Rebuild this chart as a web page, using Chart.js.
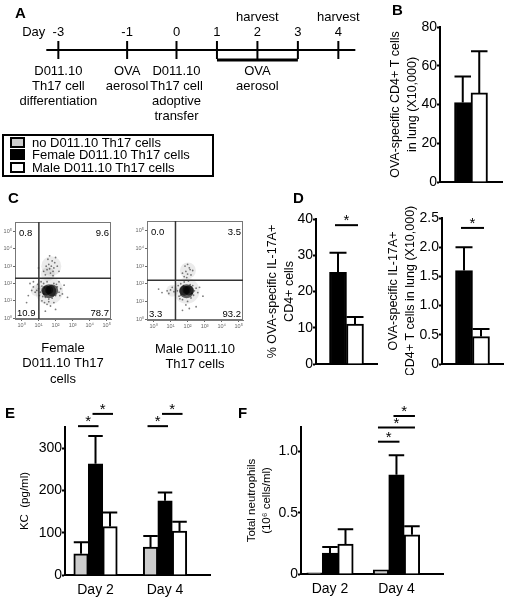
<!DOCTYPE html>
<html>
<head>
<meta charset="utf-8">
<script src="https://cdn.jsdelivr.net/npm/chart.js@4.4.1/dist/chart.umd.min.js"></script>
<style>
  body { margin: 0; background: #fff; font-family: "Liberation Sans", Arial, sans-serif; }
  #page { position: relative; width: 506px; height: 600px; overflow: hidden; }
  #page canvas { position: absolute; }
  .tag { position: absolute; font-weight: bold; font-size: 15px; line-height: 17px; }
  #legend { position: absolute; left: 2px; top: 134px; width: 208px; padding-bottom: 1px; border: 2px solid #000; font-size: 13px; }
  #legend .row { height: 12.5px; display: flex; align-items: center; }
  #legend .sw { display: inline-block; width: 11px; height: 7px; border: 2px solid #000; margin: 0 7px 0 6px; }
</style>
</head>
<body>
<div id="page">
  <canvas id="cA" width="372" height="135" style="left:0;top:0"></canvas>
  <canvas id="cB" width="130" height="179" style="left:376px;top:14px"></canvas>
  <canvas id="cC1" width="125" height="187" style="left:0;top:208px"></canvas>
  <canvas id="cC2" width="124" height="188" style="left:132px;top:208px"></canvas>
  <canvas id="cD1" width="128" height="170" style="left:252px;top:205px"></canvas>
  <canvas id="cD2" width="128" height="170" style="left:378px;top:205px"></canvas>
  <canvas id="cE" width="215" height="200" style="left:0;top:400px"></canvas>
  <canvas id="cF" width="217" height="200" style="left:236px;top:400px"></canvas>
  <div id="legend"></div>
  <div class="tag" style="left:15px;top:4px">A</div>
  <div class="tag" style="left:392px;top:1px">B</div>
  <div class="tag" style="left:8px;top:189px">C</div>
  <div class="tag" style="left:293px;top:189px">D</div>
  <div class="tag" style="left:5px;top:404px">E</div>
  <div class="tag" style="left:238px;top:404px">F</div>
</div>
<script>
// ---------- data ----------
// A : protocol timeline (days)
const timelineDays = [-3, -1, 0, 1, 2, 3, 4];
const timelineSpan = [-3.35, 4.42];
const harvestDays = [2, 4];
const aerosolDays = [1, 3];
const eventDays = [-3, -1, 0, 2];
const eventText = [
  ['D011.10', 'Th17 cell', 'differentiation'],
  ['OVA', 'aerosol'],
  ['D011.10', 'Th17 cell', 'adoptive', 'transfer'],
  ['OVA', 'aerosol']
];

// groups of mice
const seriesNames = ['no D011.10 Th17 cells', 'Female D011.10 Th17 cells', 'Male D011.10 Th17 cells'];
const seriesColors = ['#cccccc', '#000000', '#ffffff'];

// B : OVA-specific CD4+ T cells in lung (x10,000)
const cd4Ticks = ['0', '20', '40', '60', '80'];
const cd4Female = [41], cd4FemaleErr = [13.5];
const cd4Male = [46], cd4MaleErr = [21.5];

// C : flow plots (log10 decades), gates and quadrant %
const flowTicks = ['10⁰', '10¹', '10²', '10³', '10⁴', '10⁵'];
const femaleGate = [1.02, 2.3];
const maleGate = [1.29, 2.2];
const femaleQuad = ['0.8', '9.6', '10.9', '78.7'];   // UL, UR, LL, LR
const maleQuad = ['0.0', '3.5', '3.3', '93.2'];
const femaleDots = [
  [1.10,1.50],[1.20,1.85],[1.30,1.40],[1.30,2.00],[1.40,1.20],[1.50,2.10],[1.60,1.10],[1.80,1.15],[1.90,2.00],[2.00,1.30],
  [2.10,1.80],[2.20,1.50],[2.30,1.70],[2.40,1.40],[1.00,1.70],[0.90,1.60],[0.80,1.50],[0.70,1.80],[0.60,1.60],[1.05,1.30],
  [1.15,2.10],[1.35,0.90],[1.50,0.80],[1.70,0.70],[1.60,0.95],[1.90,0.90],[2.50,1.90],[2.20,2.10],[1.20,1.00],[0.95,1.95],
  [1.40,2.50],[1.50,2.80],[1.60,3.10],[1.70,2.60],[1.80,3.30],[1.90,2.90],[2.00,3.50],[1.55,3.40],[2.10,3.00],[1.75,3.00],
  [1.45,3.00],[1.85,2.45],[2.20,2.70],[1.65,3.60],[1.95,3.20],[1.30,2.70],[1.00,2.90],[0.70,2.10],[0.40,1.30],[0.50,2.00],
  [2.70,1.20],[1.40,0.40],[2.00,0.50],[0.30,0.90],[1.25,1.25],[2.05,1.95],[1.35,1.75],[2.25,1.30],[1.65,2.85],[1.85,2.70]
];
const femaleHalo = [[1.62,1.58,14],[1.75,3.0,10],[1.55,2.55,7],[0.9,1.6,6]];
const femaleCore = [[1.62,1.55,7],[1.45,1.6,5],[1.8,1.6,6],[1.62,1.62,4]];
const maleDots = [
  [1.40,1.60],[1.30,1.70],[1.20,1.55],[1.00,1.65],[0.80,1.60],[1.50,1.30],[1.60,2.00],[1.70,1.10],[1.80,2.10],[2.00,1.00],
  [2.20,1.20],[2.30,1.90],[2.40,1.60],[2.50,1.75],[2.60,1.50],[1.90,0.80],[2.10,0.60],[2.05,2.15],[1.55,1.15],[2.35,1.35],
  [1.45,1.90],[2.70,1.80],[1.10,1.80],[0.90,1.45],[1.80,2.40],[1.90,2.70],[2.00,2.55],[2.10,2.90],[1.85,3.00],[2.20,2.50],
  [1.70,2.60],[2.00,3.10],[1.95,2.35],[2.30,2.75],[0.50,1.50],[0.30,1.70],[2.90,1.30],[1.70,0.50],[2.50,0.70],[2.15,2.80],
  [1.60,1.35],[2.25,1.45],[1.75,1.90],[2.15,1.95]
];
const maleHalo = [[1.94,1.6,13],[2.02,2.75,8],[1.1,1.6,6]];
const maleCore = [[1.94,1.58,7],[1.8,1.6,5],[2.08,1.62,5],[1.94,1.64,4]];

// D : IL-17A+ cells
const pctTicks = ['0', '10', '20', '30', '40'];
const pctFemale = [25.3], pctFemaleErr = [5.4];
const pctMale = [11.0], pctMaleErr = [2.0];
const pctSig = [[0, 0, 1, 38.3]];          // group, from series, to series, level
const countTicks = ['0', '0.5', '1.0', '1.5', '2.0', '2.5'];
const countFemale = [1.6], countFemaleErr = [0.4];
const countMale = [0.47], countMaleErr = [0.13];
const countSig = [[0, 0, 1, 2.33]];

// E : KC (pg/ml)
const dayLabels = ['Day 2', 'Day 4'];
const kcTicks = ['0', '100', '200', '300'];
const kcNone = [50, 66], kcNoneErr = [27.5, 26];
const kcFemale = [263, 175.5], kcFemaleErr = [66, 19.5];
const kcMale = [114.5, 104], kcMaleErr = [33.5, 22];
const kcSig = [[0, 0, 1, 352], [0, 1, 2, 381], [1, 0, 1, 352], [1, 1, 2, 381]];

// F : total neutrophils (10^6 cells/ml)
const neutTicks = ['0', '0.5', '1.0'];
const neutNone = [0.01, 0.035], neutNoneErr = [0, 0];
const neutFemale = [0.17, 0.81], neutFemaleErr = [0.05, 0.16];
const neutMale = [0.245, 0.32], neutMaleErr = [0.12, 0.07];
const neutSig = [[1, 0, 1, 1.08], [1, 0, 2, 1.195], [1, 1, 2, 1.29]];

// ---------- defaults ----------
const FONT = '"Liberation Sans", Arial, sans-serif';
Chart.defaults.font.family = FONT;
Chart.defaults.font.size = 14;
Chart.defaults.color = '#000';
Chart.defaults.animation = false;
Chart.defaults.responsive = false;
Chart.defaults.events = [];
Chart.defaults.plugins.legend.display = false;
Chart.defaults.plugins.tooltip.enabled = false;

// legend box
document.getElementById('legend').innerHTML = seriesNames.map((n, i) =>
  '<div class="row"><span class="sw" style="background:' + seriesColors[i] + '"></span>' + n + '</div>').join('');

// ---------- plugins ----------
// error bars: only the upper half, cap as wide as the bar
const errorBars = {
  id: 'errorBars',
  afterDatasetsDraw(chart) {
    const ctx = chart.ctx, y = chart.scales.y;
    ctx.save();
    ctx.strokeStyle = '#000';
    ctx.lineWidth = 2;
    chart.data.datasets.forEach((ds, i) => {
      if (!ds.errors) return;
      chart.getDatasetMeta(i).data.forEach((bar, j) => {
        const err = ds.errors[j];
        if (!err) return;
        const d = ds.data[j];
        const v = typeof d === 'object' ? d.y : d;
        const top = y.getPixelForValue(v + err);
        ctx.beginPath();
        ctx.moveTo(bar.x, bar.y);
        ctx.lineTo(bar.x, top);
        ctx.moveTo(bar.x - bar.width / 2, top);
        ctx.lineTo(bar.x + bar.width / 2, top);
        ctx.stroke();
      });
    });
    ctx.restore();
  }
};

// significance lines with a star
function sigBars(marks) {
  return {
    id: 'sigBars',
    afterDatasetsDraw(chart) {
      const ctx = chart.ctx, y = chart.scales.y;
      ctx.save();
      ctx.strokeStyle = '#000';
      ctx.fillStyle = '#000';
      ctx.lineWidth = 2;
      ctx.font = '15px ' + FONT;
      ctx.textAlign = 'center';
      ctx.textBaseline = 'middle';
      marks.forEach(([g, a, b, level]) => {
        const x1 = chart.getDatasetMeta(a).data[g].x;
        const x2 = chart.getDatasetMeta(b).data[g].x;
        const py = y.getPixelForValue(level);
        ctx.beginPath();
        ctx.moveTo(x1 - 3, py);
        ctx.lineTo(x2 + 3, py);
        ctx.stroke();
        ctx.fillText('*', (x1 + x2) / 2, py - 4);
      });
      ctx.restore();
    }
  };
}

function yAxis(tickLabels, max, title, titleSize, titlePad, width) {
  return {
    min: 0,
    max: max,
    afterFit: s => { s.width = width; },
    afterBuildTicks: s => { s.ticks = tickLabels.map(t => ({ value: Number(t) })); },
    ticks: { callback: (v, i) => tickLabels[i], padding: 0 },
    grid: { display: true, drawOnChartArea: false, drawTicks: true, tickLength: 3, tickWidth: 2, tickColor: '#000' },
    border: { display: true, color: '#000', width: 2 },
    title: { display: true, text: title, font: { size: titleSize, lineHeight: 1.35 }, padding: { top: titlePad, bottom: 0 } }
  };
}

// bar panels (B, D, E, F)
function barPanel(id, o) {
  const grouped = o.groups.length > 1;
  const datasets = o.series.map((s, k) => ({
    label: seriesNames[s],
    data: grouped ? o.means[k].map((v, i) => ({ x: i + 1, y: v })) : o.means[k],
    errors: o.errors[k],
    backgroundColor: seriesColors[s],
    borderColor: '#000',
    borderWidth: 2,
    barThickness: o.barWidth
  }));
  const x = grouped ? {
    type: 'linear', offset: false, min: o.xRange[0], max: o.xRange[1],
    afterBuildTicks: s => { s.ticks = o.groups.map((g, i) => ({ value: i + 1 })); },
    afterFit: s => { s.height = o.xHeight; },
    ticks: { callback: (v, i) => o.groups[i], padding: 7, maxRotation: 0, autoSkip: false },
    grid: { display: false, drawTicks: false },
    border: { display: true, color: '#000', width: 2 }
  } : {
    type: 'category',
    afterFit: s => { s.height = o.xHeight; },
    ticks: { display: false },
    grid: { display: false, drawTicks: false },
    border: { display: true, color: '#000', width: 2 }
  };
  return new Chart(document.getElementById(id), {
    type: 'bar',
    data: { labels: o.groups, datasets: datasets },
    options: {
      layout: { padding: o.pad },
      scales: { x: x, y: yAxis(o.ticks, o.max, o.title, o.titleSize, o.titlePad, o.yWidth) }
    },
    plugins: [errorBars, sigBars(o.sig || [])]
  });
}

// ---------- A : timeline ----------
// the day axis is schematic: days before the transfer are drawn at their own spacing
function schematic(d) {
  if (d >= 0) return d;
  if (d >= -1) return d * 1.22;
  return -1.22 + (d + 1) * 0.85;
}
class TimelineScale extends Chart.LinearScale {
  getPixelForValue(value) {
    return super.getPixelForValue(schematic(value));
  }
}
TimelineScale.id = 'timeline';
TimelineScale.defaults = {};
Chart.register(TimelineScale);

const timelineText = {
  id: 'timelineText',
  afterDraw(chart) {
    const ctx = chart.ctx, x = chart.scales.x;
    const line = chart.scales.y.getPixelForValue(0);
    ctx.save();
    ctx.fillStyle = '#000';
    ctx.font = '13px ' + FONT;
    ctx.textBaseline = 'middle';
    ctx.textAlign = 'right';
    ctx.fillText('Day', x.getPixelForValue(timelineDays[0]) - 13, line - 18);
    ctx.textAlign = 'center';
    timelineDays.forEach(d => ctx.fillText(String(d), x.getPixelForValue(d), line - 18));
    harvestDays.forEach(d => ctx.fillText('harvest', x.getPixelForValue(d), line - 33));
    eventDays.forEach((d, i) => {
      eventText[i].forEach((t, k) => ctx.fillText(t, x.getPixelForValue(d), line + 21 + k * 15));
    });
    ctx.restore();
  }
};

new Chart(document.getElementById('cA'), {
  type: 'scatter',
  data: {
    datasets: [
      { type: 'line', data: timelineSpan.map(d => ({ x: d, y: 0 })), borderColor: '#000', borderWidth: 2, pointRadius: 0, clip: false },
      { type: 'line', data: aerosolDays.map(d => ({ x: d, y: -1 })), borderColor: '#000', borderWidth: 3, pointRadius: 0, clip: false },
      { data: timelineDays.map(d => ({ x: d, y: 0 })), pointStyle: 'line', pointRadius: 9, pointRotation: 90,
        pointBorderWidth: 2, pointBorderColor: '#000', clip: false }
    ]
  },
  options: {
    layout: { padding: { top: 40, bottom: 75, left: 0, right: 2 } },
    scales: {
      x: { type: 'timeline', display: false, min: -4.09, max: 4.56 },
      y: { display: false, min: -1, max: 1 }
    }
  },
  plugins: [timelineText]
});

// ---------- B ----------
barPanel('cB', {
  groups: [''], series: [1, 2],
  means: [cd4Female, cd4Male], errors: [cd4FemaleErr, cd4MaleErr],
  ticks: cd4Ticks, max: 80,
  title: ['OVA-specific CD4+ T cells', 'in lung (X10,000)'], titleSize: 12.5, titlePad: 11,
  yWidth: 64, xHeight: 11, barWidth: 16.5, pad: { top: 13, right: 4, left: 0, bottom: 0 }
});

// ---------- C : flow plots ----------
function flowFrame(gate, quad) {
  return {
    id: 'flowFrame',
    afterDatasetsDraw(chart) {
      const { ctx, chartArea: a, scales: { x, y } } = chart;
      ctx.save();
      ctx.strokeStyle = '#777';
      ctx.lineWidth = 1;
      ctx.strokeRect(a.left + 0.5, a.top + 0.5, a.width - 1, a.height - 1);
      const gx = x.getPixelForValue(gate[0]), gy = y.getPixelForValue(gate[1]);
      ctx.strokeStyle = '#333';
      ctx.lineWidth = 1.5;
      ctx.beginPath();
      ctx.moveTo(gx, a.top); ctx.lineTo(gx, a.bottom);
      ctx.moveTo(a.left, gy); ctx.lineTo(a.right, gy);
      ctx.stroke();
      ctx.fillStyle = '#000';
      ctx.font = '9.5px ' + FONT;
      ctx.textBaseline = 'middle';
      ctx.textAlign = 'left';
      ctx.fillText(quad[0], a.left + 4, a.top + 11);
      ctx.fillText(quad[2], a.left + 2, a.bottom - 6);
      ctx.textAlign = 'right';
      ctx.fillText(quad[1], a.right - 2, a.top + 11);
      ctx.fillText(quad[3], a.right - 2, a.bottom - 6);
      ctx.restore();
    }
  };
}

function flowAxis(xRange, yRange) {
  const common = {
    afterBuildTicks: s => { s.ticks = flowTicks.map((t, i) => ({ value: i })); },
    ticks: { callback: (v, i) => flowTicks[i], font: { size: 5.5 }, color: '#666', padding: 1, maxRotation: 0, autoSkip: false },
    grid: { display: true, drawOnChartArea: false, tickLength: 2, tickColor: '#666' },
    border: { display: true, color: '#777', width: 1 }
  };
  return { x: Object.assign({ min: xRange[0], max: xRange[1] }, common),
           y: Object.assign({ min: yRange[0], max: yRange[1], afterFit: s => { s.width = 15; } }, common) };
}

function flowPanel(id, dots, halo, core, gate, quad, caption) {
  const axes = flowAxis([-0.38, 5.25], [-0.05, 5.55]);
  axes.x.afterFit = s => { s.height = 76; };
  axes.x.title = { display: true, text: caption, font: { size: 13, lineHeight: 1.2 },
                   padding: { top: 0, bottom: 39.2 - 15.6 * (caption.length - 1) } };
  new Chart(document.getElementById(id), {
    type: 'scatter',
    data: {
      datasets: [
        { type: 'bubble', data: halo.map(p => ({ x: p[0], y: p[1], r: p[2] })), backgroundColor: 'rgba(0,0,0,0.08)', borderWidth: 0 },
        { data: dots.map(p => ({ x: p[0], y: p[1] })), pointRadius: 0.9, backgroundColor: 'rgba(0,0,0,0.5)', borderWidth: 0 },
        { type: 'bubble', data: core.map(p => ({ x: p[0], y: p[1], r: p[2] })), backgroundColor: 'rgba(0,0,0,0.6)', borderWidth: 0 }
      ]
    },
    options: { layout: { padding: { top: 9, right: 5, left: 0, bottom: 0 } }, scales: axes },
    plugins: [flowFrame(gate, quad)]
  });
}

flowPanel('cC1', femaleDots, femaleHalo, femaleCore, femaleGate, femaleQuad, ['Female', 'D011.10 Th17', 'cells']);
flowPanel('cC2', maleDots, maleHalo, maleCore, maleGate, maleQuad, ['Male D011.10', 'Th17 cells']);

// ---------- D ----------
barPanel('cD1', {
  groups: [''], series: [1, 2],
  means: [pctFemale, pctMale], errors: [pctFemaleErr, pctMaleErr], sig: pctSig,
  ticks: pctTicks, max: 40,
  title: ['% OVA-specific IL-17A+', 'CD4+ cells'], titleSize: 12.5, titlePad: 12,
  yWidth: 64, xHeight: 11, barWidth: 17, pad: { top: 14, right: 3, left: 0, bottom: 0 }
});
barPanel('cD2', {
  groups: [''], series: [1, 2],
  means: [countFemale, countMale], errors: [countFemaleErr, countMaleErr], sig: countSig,
  ticks: countTicks, max: 2.5,
  title: ['OVA-specific IL-17A+', 'CD4+ T cells in lung (X10,000)'], titleSize: 12.5, titlePad: 7,
  yWidth: 64, xHeight: 11, barWidth: 17, pad: { top: 13, right: 3, left: 0, bottom: 0 }
});

// ---------- E ----------
barPanel('cE', {
  groups: dayLabels, series: [0, 1, 2],
  means: [kcNone, kcFemale, kcMale], errors: [kcNoneErr, kcFemaleErr, kcMaleErr], sig: kcSig,
  ticks: kcTicks, max: 350, xRange: [0.561, 2.647],
  title: 'KC  (pg/ml)', titleSize: 11.5, titlePad: 17,
  yWidth: 65, xHeight: 25, barWidth: 14.5, pad: { top: 27, right: 5, left: 0, bottom: 0 }
});

// ---------- F ----------
barPanel('cF', {
  groups: dayLabels, series: [0, 1, 2],
  means: [neutNone, neutFemale, neutMale], errors: [neutNoneErr, neutFemaleErr, neutMaleErr], sig: neutSig,
  ticks: neutTicks, max: 1.2, xRange: [0.564, 2.70],
  title: ['Total neutrophils', '(10⁶ cells/ml)'], titleSize: 11.5, titlePad: 8,
  yWidth: 65, xHeight: 26, barWidth: 15.5, pad: { top: 27, right: 10, left: 0, bottom: 0 }
});
</script>
</body>
</html>
